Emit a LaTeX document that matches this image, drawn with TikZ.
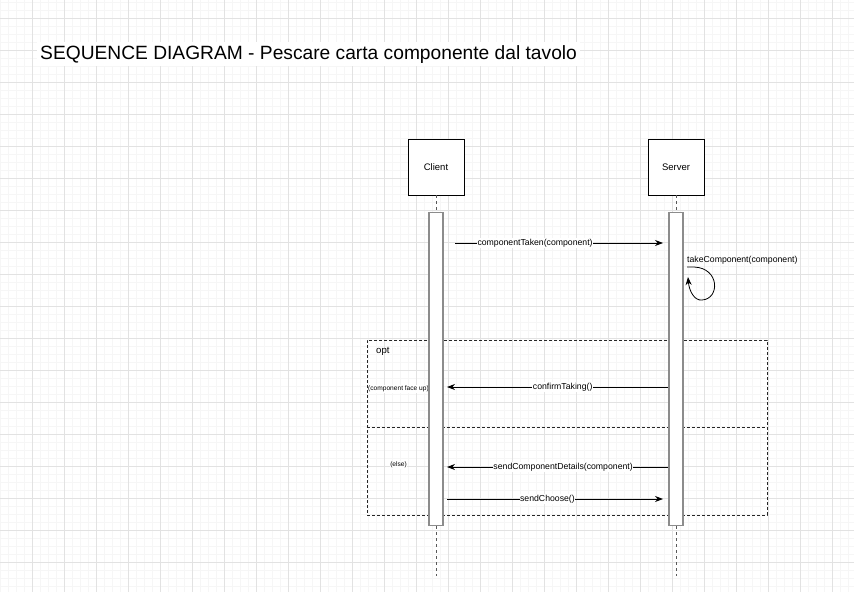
\documentclass[tikz,border=0pt]{standalone}
\usepackage{fontspec}
\setmainfont{Liberation Sans}
\usetikzlibrary{arrows.meta, positioning}

\definecolor{majorgrid}{HTML}{E2E2E2}
\definecolor{minorgrid}{HTML}{F6F6F6}
\definecolor{actgray}{HTML}{8C8C8C}

\begin{document}
\begin{tikzpicture}[
    x=1pt, y=-1pt,
    every node/.style={font=\fontsize{8.7}{10}\selectfont},
    actor/.style={draw, fill=white, line width=0.8pt, minimum size=56pt, inner sep=0pt,
                  font=\fontsize{9.5}{11}\selectfont},
    activation/.style={draw=actgray, fill=white, line width=1.6pt,
                       minimum width=14pt, minimum height=313pt, inner sep=0pt},
    lifeline/.style={draw=black!65, line width=0.8pt, dash pattern=on 3pt off 3pt},
    msg/.style={-{Stealth[length=8pt, width=6pt]}, line width=0.8pt},
    lbl/.style={fill=white, inner sep=0.6pt},
    guard/.style={font=\fontsize{6.6}{8}\selectfont, inner sep=0.5pt},
    optframe/.style={draw=black!85, line width=0.7pt, dash pattern=on 3pt off 2pt}
]

% Background grid
\useasboundingbox (0,0) rectangle (854,592);
\fill[white] (0,0) rectangle (854,592);
\foreach \gx in {0,8,...,856}
  \draw[minorgrid, line width=0.6pt] (\gx,0) -- (\gx,592);
\foreach \gy in {2,10,...,592}
  \draw[minorgrid, line width=0.6pt] (0,\gy) -- (854,\gy);
\foreach \gx in {32,64,...,832}
  \draw[majorgrid, line width=1pt] (\gx,0) -- (\gx,592);
\foreach \gy in {18,50,...,592}
  \draw[majorgrid, line width=1pt] (0,\gy) -- (854,\gy);

% Title
\node[anchor=base west, fill=white, inner sep=3pt, font=\fontsize{19.2}{22}\selectfont]
  (title) at (37,59) {SEQUENCE DIAGRAM - Pescare carta componente dal tavolo};

% Participants
\node[actor] (client) at (436,167) {Client};
\node[actor] (server) at (676,167) {Server};

% Lifelines
\coordinate (clientEnd) at (436,576);
\coordinate (serverEnd) at (676,576);
\draw[lifeline] (client.south) -- (436,212);
\draw[lifeline] (server.south) -- (676,212);
\draw[lifeline] (436,526) -- (clientEnd);
\draw[lifeline] (676,526) -- (serverEnd);

% opt frame (behind the activation bars)
\node[optframe, minimum width=400pt, minimum height=175pt, inner sep=0pt]
  (opt) at (567,427.5) {};
\draw[optframe] (opt.west |- 0,427) -- (opt.east |- 0,427);
\node[anchor=west, font=\fontsize{9.6}{11}\selectfont, inner sep=0pt]
  (optlbl) at (376,351) {opt};
\node[guard, fill=white] (faceup) at (398.5,389) {(component face up)};
\node[guard, fill=white] (elselbl) at (398.5,465) {(else)};

% Activation bars
\node[activation] (clientAct) at (436,369) {};
\node[activation] (serverAct) at (676,369) {};

% Messages
\coordinate (takenFrom) at (455,243);
\coordinate (takenTo) at (663,243);
\draw[msg] (takenFrom) -- node[lbl, pos=0.385] {componentTaken(component)} (takenTo);

\node[anchor=west, inner sep=0pt] (selflbl) at (687,260.5) {takeComponent(component)};
\coordinate (selfFrom) at (687,267);
\coordinate (selfTo) at (688,277);
\draw[msg] (selfFrom) -- (694,267) .. controls (720,268) and (720,299) .. (702,300)
           .. controls (694,301) and (689,290) .. (selfTo);

\coordinate (confirmTo) at (447,387);
\draw[msg] (serverAct.west |- 0,387) -- node[lbl, pos=0.477] {confirmTaking()} (confirmTo);

\coordinate (detailsTo) at (447,467);
\draw[msg] (serverAct.west |- 0,467) -- node[lbl, pos=0.475] {sendComponentDetails(component)} (detailsTo);

\coordinate (chooseFrom) at (447,499);
\coordinate (chooseTo) at (663,499);
\draw[msg] (chooseFrom) -- node[lbl, pos=0.465] {sendChoose()} (chooseTo);

\end{tikzpicture}
\end{document}
